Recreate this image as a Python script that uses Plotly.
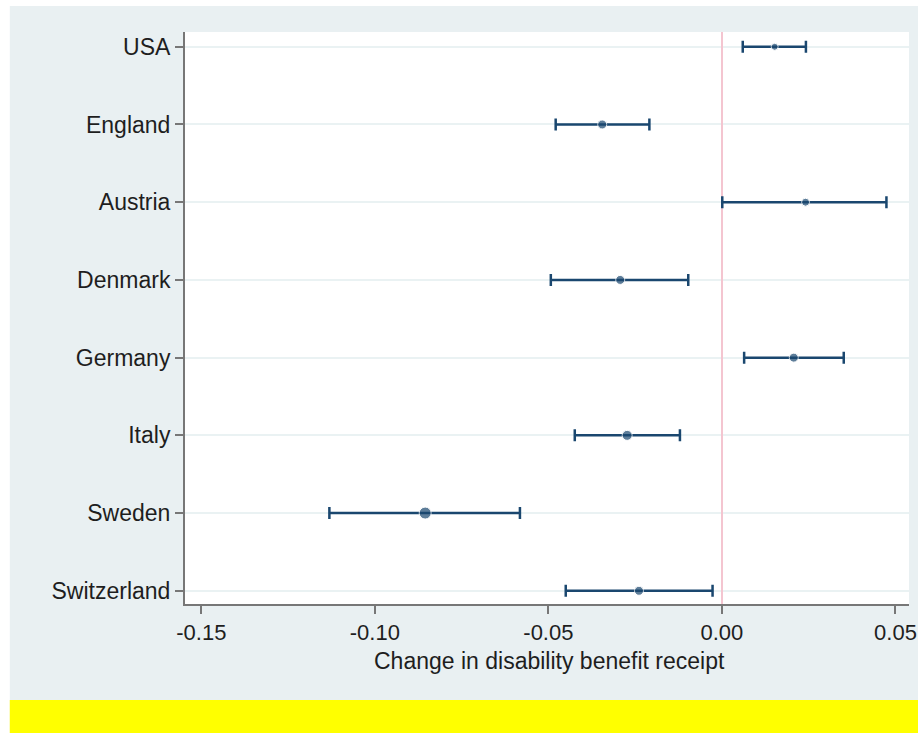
import plotly.graph_objects as go

countries = ["USA", "England", "Austria", "Denmark", "Germany", "Italy", "Sweden", "Switzerland"]
estimate = [0.0152, -0.0345, 0.0241, -0.0293, 0.0207, -0.0273, -0.0855, -0.0239]
ci_low = [0.0060, -0.0479, 0.0001, -0.0493, 0.0064, -0.0424, -0.1131, -0.0450]
ci_high = [0.0242, -0.0209, 0.0474, -0.0097, 0.0351, -0.0121, -0.0582, -0.0027]
x_ticks = [-0.15, -0.10, -0.05, 0.00, 0.05]
x_tick_labels = ["-0.15", "-0.10", "-0.05", "0.00", "0.05"]
x_title = "Change in disability benefit receipt"

marker_sizes = [7, 9, 8, 9, 9, 10, 12, 9]

NAVY = "#1a476f"
BG = "#e9f0f2"
FONT = "Liberation Sans, Arial, sans-serif"
TXT = "#1e1e1e"

err_plus = [h - e for h, e in zip(ci_high, estimate)]
err_minus = [e - l for e, l in zip(estimate, ci_low)]

fig = go.Figure()
fig.add_trace(go.Scatter(
    x=estimate, y=countries, mode="markers",
    marker=dict(color=NAVY, size=marker_sizes),
    error_x=dict(type="data", symmetric=False, array=err_plus, arrayminus=err_minus,
                 color=NAVY, thickness=2.5, width=6),
    showlegend=False, hoverinfo="skip",
))

# horizontal compensation for the capture
SX = 0.99
W, H = 929, 733
L = round(183 / SX)
R = W - round(905 / SX)
T, B = 32, 129
pw = W - L - R
ph = H - T - B

def px_x(p):
    return (p / SX - L) / pw

def px_y(p):
    return (H - B - p) / ph

shapes = [
    dict(type="rect", xref="paper", yref="paper", x0=px_x(-5), x1=px_x(8.5), y0=px_y(740), y1=px_y(-5),
         fillcolor="white", line=dict(width=0), layer="below"),
    dict(type="rect", xref="paper", yref="paper", x0=px_x(-5), x1=px_x(935), y0=px_y(6), y1=px_y(-5),
         fillcolor="white", line=dict(width=0), layer="below"),
    dict(type="rect", xref="paper", yref="paper", x0=px_x(8.5), x1=px_x(935), y0=px_y(740), y1=px_y(700),
         fillcolor="#ffff00", line=dict(width=0), layer="below"),
]

annotations = [
    dict(text=x_title, xref="paper", yref="paper", x=px_x(546.5), y=px_y(661),
         xanchor="center", yanchor="middle", showarrow=False,
         font=dict(size=23, family=FONT, color=TXT)),
]

fig.update_layout(
    width=W, height=H,
    margin=dict(l=L, r=R, t=T, b=B, pad=0),
    paper_bgcolor=BG, plot_bgcolor="white",
    font=dict(family=FONT, color=TXT),
    shapes=shapes,
    annotations=annotations,
    xaxis=dict(
        range=[-0.1547, 0.0539],
        tickvals=x_ticks, ticktext=x_tick_labels,
        tickfont=dict(size=22, family=FONT, color=TXT),
        ticks="outside", ticklen=8, tickwidth=2, tickcolor="#777777",
        showline=True, linecolor="#777777", linewidth=2,
        showgrid=False,
        zeroline=True, zerolinecolor="#f4c5d0", zerolinewidth=1.5,
    ),
    yaxis=dict(
        type="category", categoryorder="array", categoryarray=countries,
        range=[7.17, -0.19],
        tickfont=dict(size=23, family=FONT, color=TXT),
        ticks="outside", ticklen=8, tickwidth=1.5, tickcolor="#777777",
        showline=True, linecolor="#777777", linewidth=2,
        showgrid=True, gridcolor="#eaf2f3", gridwidth=2,
        zeroline=False,
    ),
)

fig.write_html(
    "out.html",
    config={"displayModeBar": False},
    post_script="document.body.style.margin='0';document.body.style.overflow='hidden';",
)
